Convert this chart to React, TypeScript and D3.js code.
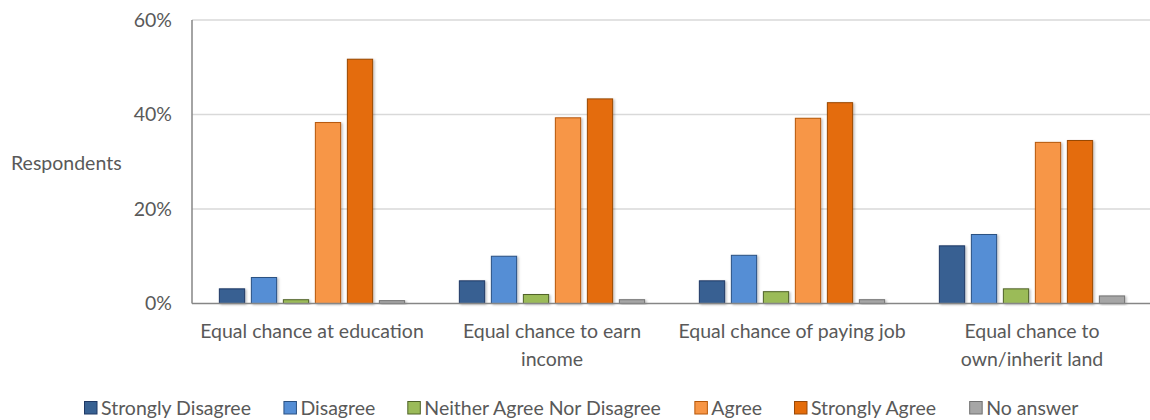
import { scaleBand, scaleLinear } from "d3";

const WIDTH = 1150;
const HEIGHT = 420;
const MARGIN = { top: 20, right: -2, bottom: 116.5, left: 192 };
const FONT = "Lato, 'Open Sans', sans-serif";
const LABEL_SIZE = 19.5;

const categories = [
  ["Equal chance at education"],
  ["Equal chance to earn", "income"],
  ["Equal chance of paying job"],
  ["Equal chance to", "own/inherit land"],
];
const seriesNames = [
  "Strongly Disagree",
  "Disagree",
  "Neither Agree Nor Disagree",
  "Agree",
  "Strongly Agree",
  "No answer",
];
// percent per category, one array per series
const stronglyDisagree = [3.1, 4.8, 4.8, 12.2];
const disagree = [5.5, 10.0, 10.2, 14.6];
const neither = [0.8, 1.9, 2.5, 3.1];
const agree = [38.3, 39.3, 39.2, 34.1];
const stronglyAgree = [51.7, 43.3, 42.5, 34.5];
const noAnswer = [0.6, 0.8, 0.8, 1.6];
const yTicks = [0, 20, 40, 60];

const seriesValues = [stronglyDisagree, disagree, neither, agree, stronglyAgree, noAnswer];
const fills = ["#386192", "#558ED5", "#9BBB59", "#F79646", "#E46C0A", "#A6A6A6"];
const strokes = ["#1F3864", "#2A5182", "#4F6228", "#B65708", "#984807", "#717171"];

function measure(text: string, size: number) {
  const ctx = document.createElement("canvas").getContext("2d");
  if (!ctx) return text.length * size * 0.45;
  ctx.font = `${size}px Lato`;
  return ctx.measureText(text).width;
}

export default function App() {
  const plotBottom = HEIGHT - MARGIN.bottom;
  const xGroup = scaleBand<number>()
    .domain(categories.map((_, i) => i))
    .range([MARGIN.left, WIDTH - MARGIN.right])
    .padding(0);
  const xInner = scaleBand<number>()
    .domain(seriesNames.map((_, i) => i))
    .range([0, xGroup.bandwidth()])
    .paddingInner(0.21)
    .paddingOuter(0.855);
  const y = scaleLinear().domain([0, 60]).range([plotBottom, MARGIN.top]);

  // legend layout
  let cursor = 84;
  const legendItems = seriesNames.map((name, i) => {
    const x = cursor;
    cursor += 17 + measure(name, LABEL_SIZE) + 32;
    return { name, x, i };
  });

  return (
    <div style={{ position: "absolute", left: 0, top: 0 }}>
      <svg width={WIDTH} height={HEIGHT} viewBox={`0 0 ${WIDTH} ${HEIGHT}`} style={{ display: "block" }}>
        <defs>
          <filter id="shadow" x="-20%" y="-20%" width="150%" height="150%">
            <feDropShadow dx="1.5" dy="1" stdDeviation="0.8" floodColor="#000" floodOpacity="0.25" />
          </filter>
        </defs>
        <rect width={WIDTH} height={HEIGHT} fill="#fff" />
        {yTicks.map((t) => (
          <g key={t}>
            {t > 0 && (
              <line x1={MARGIN.left} x2={WIDTH} y1={y(t)} y2={y(t)} stroke="#D9D9D9" strokeWidth={1.5} />
            )}
            <text
              x={172}
              y={y(t)}
              dy="0.35em"
              textAnchor="end"
              fontFamily={FONT}
              fontSize={LABEL_SIZE}
              fill="#595959"
            >
              {t}%
            </text>
          </g>
        ))}
        <text x={11} y={170} fontFamily={FONT} fontSize={LABEL_SIZE} fill="#595959">
          Respondents
        </text>
        {categories.map((_, ci) => (
          <g key={ci} transform={`translate(${xGroup(ci)},0)`}>
            {seriesValues.map((vals, si) => (
              <rect
                key={si}
                x={xInner(si)}
                y={y(vals[ci])}
                width={xInner.bandwidth()}
                height={plotBottom - y(vals[ci])}
                fill={fills[si]}
                stroke={strokes[si]}
                strokeWidth={1}
                filter="url(#shadow)"
              />
            ))}
          </g>
        ))}
        <line x1={MARGIN.left} x2={MARGIN.left} y1={MARGIN.top} y2={plotBottom} stroke="#868686" strokeWidth={1.5} />
        <line x1={MARGIN.left} x2={WIDTH} y1={plotBottom} y2={plotBottom} stroke="#868686" strokeWidth={1.5} />
        {categories.map((lines, ci) => (
          <text
            key={ci}
            x={(xGroup(ci) ?? 0) + xGroup.bandwidth() / 2}
            y={338}
            textAnchor="middle"
            fontFamily={FONT}
            fontSize={LABEL_SIZE}
            fill="#595959"
          >
            {lines.map((l, li) => (
              <tspan key={li} x={(xGroup(ci) ?? 0) + xGroup.bandwidth() / 2} dy={li === 0 ? 0 : 28}>
                {l}
              </tspan>
            ))}
          </text>
        ))}
        {legendItems.map(({ name, x, i }) => (
          <g key={name}>
            <rect x={x + 0.5} y={401.5} width={12.5} height={12.5} fill={fills[i]} stroke={strokes[i]} strokeWidth={1} />
            <text x={x + 17} y={415} fontFamily={FONT} fontSize={LABEL_SIZE} fill="#595959">
              {name}
            </text>
          </g>
        ))}
      </svg>
    </div>
  );
}
